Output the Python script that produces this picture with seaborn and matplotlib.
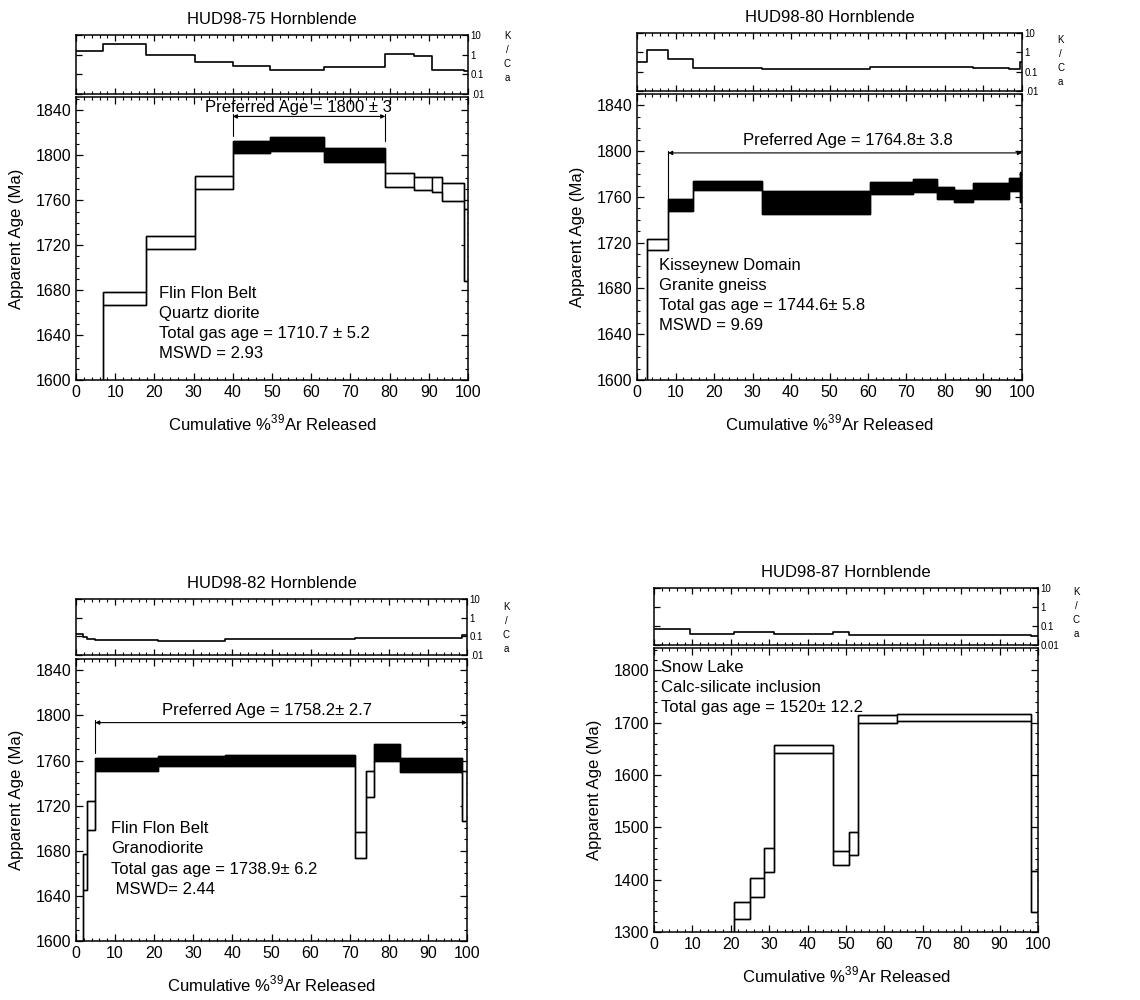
import numpy as np
import pandas as pd
import seaborn as sns
import matplotlib.pyplot as plt
from matplotlib.ticker import MultipleLocator, FixedLocator, NullLocator

# step edges (cumulative % 39Ar), age ranges (Ma), plateau flag, K/Ca per step

# HUD98-75
p75_edges = [0, 7.0, 17.9, 30.4, 40.0, 49.5, 63.3, 78.9, 86.1, 90.8, 93.4, 99.1, 100]
p75_lo = [1480, 1667, 1717, 1770, 1802, 1804, 1794, 1772, 1769, 1767, 1759, 1688]
p75_hi = [1520, 1678, 1728, 1782, 1813, 1816, 1807, 1784, 1781, 1781, 1775, 1752]
p75_plateau = [0, 0, 0, 0, 1, 1, 1, 0, 0, 0, 0, 0]
p75_kca = [1.6, 3.5, 0.93, 0.4, 0.26, 0.17, 0.25, 1.1, 0.85, 0.16, 0.16, 0.15]
p75_pref = [40.0, 78.9, 1834.7]

# HUD98-80
p80_edges = [0, 2.6, 8.1, 14.6, 32.4, 60.4, 71.8, 77.9, 82.4, 87.2, 96.5, 99.6, 100]
p80_lo = [1560, 1714, 1748, 1766, 1745, 1763, 1764, 1758, 1756, 1758, 1765, 1756]
p80_hi = [1590, 1723, 1758, 1774, 1765, 1773, 1776, 1769, 1766, 1772, 1777, 1782]
p80_plateau = [0, 0, 1, 1, 1, 1, 1, 1, 1, 1, 1, 1]
p80_kca = [0.32, 1.4, 0.47, 0.16, 0.13, 0.17, 0.17, 0.17, 0.17, 0.16, 0.14, 0.3]
p80_pref = [8.1, 100.0, 1798.5]

# HUD98-82
p82_edges = [0, 1.7, 2.9, 4.9, 20.9, 38.0, 71.4, 74.2, 76.1, 82.9, 98.7, 100]
p82_lo = [1540, 1645, 1698, 1751, 1755, 1755, 1674, 1728, 1760, 1750, 1706]
p82_hi = [1580, 1677, 1724, 1762, 1764, 1765, 1697, 1751, 1775, 1762, 1751]
p82_plateau = [0, 0, 0, 1, 1, 1, 0, 0, 1, 1, 0]
p82_kca = [0.14, 0.095, 0.074, 0.066, 0.059, 0.07, 0.086, 0.086, 0.086, 0.086, 0.125]
p82_pref = [4.9, 100.0, 1793.6]

# HUD98-87
p87_edges = [0, 9.5, 20.8, 25.1, 28.6, 31.2, 46.5, 50.9, 53.0, 63.4, 98.3, 100]
p87_lo = [1100, 1200, 1324, 1367, 1414, 1642, 1429, 1447, 1700, 1704, 1338]
p87_hi = [1150, 1250, 1357, 1404, 1460, 1657, 1455, 1492, 1714, 1717, 1416]
p87_plateau = [0, 0, 0, 0, 0, 0, 0, 0, 0, 0, 0]
p87_kca = [0.066, 0.04, 0.049, 0.049, 0.049, 0.04, 0.05, 0.035, 0.035, 0.035, 0.029]

sns.set_theme(style='ticks', rc={'axes.edgecolor': 'black', 'xtick.color': 'black',
                                 'ytick.color': 'black', 'text.color': 'black',
                                 'axes.labelcolor': 'black', 'axes.linewidth': 1.1})
plt.rcParams['font.family'] = ['Liberation Sans', 'DejaVu Sans']
plt.rcParams['mathtext.fontset'] = 'custom'
plt.rcParams['mathtext.rm'] = 'Liberation Sans'

W, H = 1140, 1000
fig = plt.figure(figsize=(11.4, 10), dpi=100)


def px_axes(x0, y0, x1, y1):
    return fig.add_axes([x0 / W, 1 - y1 / H, (x1 - x0) / W, (y1 - y0) / H])


def age_spectrum(ax, edges, lo, hi, plateau):
    left = np.array(edges[:-1])
    width = np.diff(edges)
    lo = np.array(lo)
    hi = np.array(hi)
    colors = ['black' if p else 'white' for p in plateau]
    ax.bar(left, hi - lo, width=width, bottom=lo, align='edge', color=colors,
           edgecolor='black', linewidth=1.0, zorder=2)
    # upper and lower envelopes as step lines
    for env in (hi, lo):
        sns.lineplot(x=edges, y=list(env) + [env[-1]], drawstyle='steps-post',
                     color='black', linewidth=1.0, estimator=None, ax=ax, zorder=3)
    ax.set_xlim(0, 100)
    ax.xaxis.set_major_locator(MultipleLocator(10))
    ax.xaxis.set_minor_locator(MultipleLocator(2))
    ax.tick_params(which='both', direction='in', top=True, right=True, labelsize=11.5)
    ax.tick_params(which='major', length=5, width=0.9)
    ax.tick_params(which='minor', length=2.5, width=0.8)
    ax.set_xlabel('Cumulative %$^{\\mathrm{39}}$Ar Released', fontsize=12, labelpad=9)
    ax.set_ylabel('Apparent Age (Ma)', fontsize=12, labelpad=8)


def kca_panel(ax, edges, kca, title, low_label, lab_y):
    sns.lineplot(x=edges, y=list(kca) + [kca[-1]], drawstyle='steps-post',
                 color='black', linewidth=1.2, estimator=None, ax=ax)
    ax.set_yscale('log')
    ax.set_ylim(0.01, 10)
    ax.set_xlim(0, 100)
    ax.xaxis.set_major_locator(MultipleLocator(10))
    ax.xaxis.set_minor_locator(MultipleLocator(2))
    ax.yaxis.set_major_locator(FixedLocator([0.01, 0.1, 1, 10]))
    ax.yaxis.set_minor_locator(NullLocator())
    ax.set_yticklabels([low_label, '0.1', '1', '10'])
    ax.tick_params(which='both', direction='in', top=True, bottom=True, left=True, right=True,
                   labelbottom=False, labelleft=False, labelright=True, labelsize=7)
    ax.tick_params(which='major', length=4, width=0.9, pad=2)
    ax.tick_params(which='minor', length=2.5, width=0.8)
    ax.set_xlabel('')
    ax.set_ylabel('')
    ax.set_title(title, fontsize=12, pad=8)
    ax.text(1.10, lab_y, 'K\n/\nC\na', transform=ax.transAxes, fontsize=7,
            ha='center', va='center', linespacing=1.5)


def preferred(ax, rng, label, tx, ty, stop_ages):
    x0, x1, y = rng
    ax.annotate('', xy=(x1, y), xytext=(x0, y),
                arrowprops=dict(arrowstyle='<|-|>', color='black', lw=0.8,
                                mutation_scale=6, shrinkA=0, shrinkB=0))
    for xe, ye in zip((x0, x1), stop_ages):
        if ye is not None:
            ax.plot([xe, xe], [y + 2, ye], color='black', lw=0.8)
    ax.text(tx, ty, label, fontsize=12, ha='center', va='center')


# panel 1: HUD98-75
k1 = px_axes(76, 35, 468, 94)
a1 = px_axes(76, 97, 468, 380)
kca_panel(k1, p75_edges, p75_kca, 'HUD98-75 Hornblende', '.01', 0.62)
age_spectrum(a1, p75_edges, p75_lo, p75_hi, p75_plateau)
a1.set_ylim(1600, 1852)
a1.yaxis.set_major_locator(MultipleLocator(40))
a1.yaxis.set_minor_locator(MultipleLocator(10))
preferred(a1, p75_pref, 'Preferred Age = 1800 \u00b1 3', 56.8, 1843,
          (p75_hi[4] + 4, p75_hi[6] + 6))
a1.text(21.3, 1684, 'Flin Flon Belt\nQuartz diorite\nTotal gas age = 1710.7 \u00b1 5.2\nMSWD = 2.93',
        fontsize=12, ha='left', va='top', linespacing=1.42)

# panel 2: HUD98-80
k2 = px_axes(637, 33, 1022, 91)
a2 = px_axes(637, 94, 1022, 380)
kca_panel(k2, p80_edges, p80_kca, 'HUD98-80 Hornblende', '.01', 0.52)
age_spectrum(a2, p80_edges, p80_lo, p80_hi, p80_plateau)
a2.set_ylim(1600, 1850)
a2.yaxis.set_major_locator(MultipleLocator(40))
a2.yaxis.set_minor_locator(MultipleLocator(10))
preferred(a2, p80_pref, 'Preferred Age = 1764.8\u00b1 3.8', 54.9, 1809,
          (p80_hi[2], None))
a2.text(5.7, 1707, 'Kisseynew Domain\nGranite gneiss\nTotal gas age = 1744.6\u00b1 5.8\nMSWD = 9.69',
        fontsize=12, ha='left', va='top', linespacing=1.42)

# panel 3: HUD98-82
k3 = px_axes(76, 599, 467, 655)
a3 = px_axes(76, 659, 467, 941)
kca_panel(k3, p82_edges, p82_kca, 'HUD98-82 Hornblende', '.01', 0.48)
age_spectrum(a3, p82_edges, p82_lo, p82_hi, p82_plateau)
a3.set_ylim(1600, 1850)
a3.yaxis.set_major_locator(MultipleLocator(40))
a3.yaxis.set_minor_locator(MultipleLocator(10))
preferred(a3, p82_pref, 'Preferred Age = 1758.2\u00b1 2.7', 48.8, 1804,
          (p82_hi[3] + 5, None))
a3.text(8.9, 1706, 'Flin Flon Belt\nGranodiorite\nTotal gas age = 1738.9\u00b1 6.2\n MSWD= 2.44',
        fontsize=12, ha='left', va='top', linespacing=1.42)

# panel 4: HUD98-87
k4 = px_axes(654, 588, 1038, 645)
a4 = px_axes(654, 648, 1038, 932)
kca_panel(k4, p87_edges, p87_kca, 'HUD98-87 Hornblende', '0.01', 0.56)
age_spectrum(a4, p87_edges, p87_lo, p87_hi, p87_plateau)
a4.set_ylim(1300, 1843)
a4.yaxis.set_major_locator(MultipleLocator(100))
a4.yaxis.set_minor_locator(MultipleLocator(20))
a4.text(1.9, 1821, 'Snow Lake\nCalc-silicate inclusion\nTotal gas age = 1520\u00b1 12.2',
        fontsize=12, ha='left', va='top', linespacing=1.42)

fig.savefig('out.png', dpi=100)
